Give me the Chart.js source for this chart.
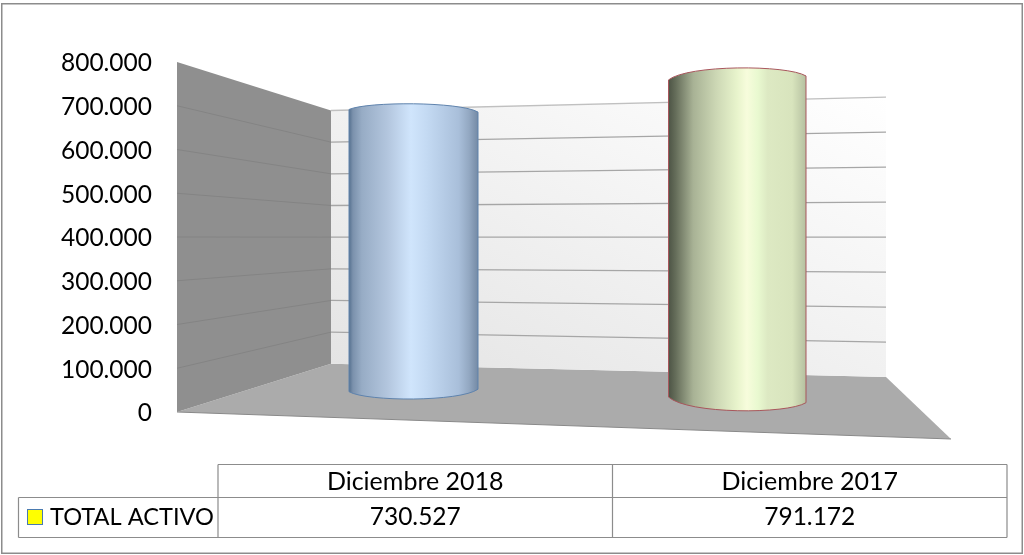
<!DOCTYPE html>
<html><head><meta charset="utf-8">
<style>html,body{margin:0;padding:0;background:#fff}canvas{display:block}</style>
<script src="https://cdn.jsdelivr.net/npm/chart.js@4"></script>
</head><body><canvas id="c" width="1024" height="555"></canvas>
<script>
const categories = ["Diciembre 2018", "Diciembre 2017"];
const seriesName = "TOTAL ACTIVO";
const totalActivo = [730527, 791172];
const yMax = 800000;
const yStep = 100000;

const fmt = v => String(v).replace(/\B(?=(\d{3})+$)/g, ".");

// perspective of the box: scale factors about the horizon row
const HORIZON = 237.5, KL = 0.7237, KR = 0.8;
const X0 = 177, X1 = 331, X2 = 886, X3 = 951, FLOOR_FRONT_RIGHT = 439;
const proj = (py, k) => HORIZON + (py - HORIZON) * k;

// how each category's cylinder sits in the 3-D box
const cylinders = [
  {l:349, r:478, baseL:391.7, baseR:389.2, low:399, kL:.883, kR:.867, bulge:7,
   line:"#5f83ad",
   stops:[[0,"#55708f"],[.03,"#7b91ac"],[.1,"#97acc5"],[.3,"#b3c6de"],[.48,"#d0e5fc"],[.6,"#c4daf3"],[.85,"#a9bfda"],[.93,"#93a8c2"],[1,"#748aa5"]]},
  {l:668.5, r:806, baseL:397, baseR:402.7, low:410.7, kL:.916, kR:.944, bulge:10,
   line:"#a8565c",
   stops:[[0,"#4d5445"],[.05,"#646c59"],[.18,"#a8b295"],[.35,"#cdd8b5"],[.5,"#e8f4cc"],[.57,"#f7fcdc"],[.65,"#e9f9d0"],[.72,"#dde9c3"],[.9,"#d8e4bd"],[1,"#b5c0a0"]]}
];

class CylinderBar extends Chart.BarElement {
  draw(ctx) {
    const s = cylinders[this.cylinderIndex || 0];
    const h = this.base - this.y;
    const tl = s.baseL - h * s.kL, tr = s.baseR - h * s.kR;
    const w = s.r - s.l, apex = (tl + tr) / 2 - s.bulge;
    const cTop = (apex - (tl + tr) / 8) * 4 / 3;
    const cBot = (s.low - (s.baseL + s.baseR) / 8) * 4 / 3;
    const g = ctx.createLinearGradient(s.l, 0, s.r, 0);
    s.stops.forEach(a => g.addColorStop(a[0], a[1]));
    ctx.save();
    ctx.beginPath();
    ctx.moveTo(s.l, tl);
    ctx.bezierCurveTo(s.l + w * .14, cTop, s.r - w * .14, cTop, s.r, tr);
    ctx.lineTo(s.r, s.baseR);
    ctx.bezierCurveTo(s.r - w * .14, cBot, s.l + w * .14, cBot, s.l, s.baseL);
    ctx.closePath();
    ctx.fillStyle = g; ctx.fill();
    ctx.strokeStyle = s.line; ctx.lineWidth = 1; ctx.stroke();
    ctx.restore();
  }
}
CylinderBar.id = "cylinderBar";
CylinderBar.defaults = Chart.BarElement.defaults;
CylinderBar.defaultRoutes = Chart.BarElement.defaultRoutes;
class CylinderController extends Chart.BarController {}
CylinderController.id = "cylinder";
CylinderController.defaults = Object.assign({}, Chart.BarController.defaults, {dataElementType:"cylinderBar"});
CylinderController.overrides = Chart.BarController.overrides;
Chart.register(CylinderBar, CylinderController);

const boxPlugin = {
  id: "box",
  beforeDatasetsDraw(chart) {
    chart.getDatasetMeta(0).data.forEach((el, i) => { el.cylinderIndex = i; });
    const ctx = chart.ctx, y = chart.scales.y;
    const top = y.getPixelForValue(yMax), bot = y.getPixelForValue(0);
    ctx.save();
    // floor
    ctx.beginPath();
    ctx.moveTo(X0, bot); ctx.lineTo(X1, proj(bot, KL)); ctx.lineTo(X2, proj(bot, KR)); ctx.lineTo(X3, FLOOR_FRONT_RIGHT); ctx.closePath();
    ctx.fillStyle = "#ababab"; ctx.fill();
    ctx.beginPath(); ctx.moveTo(X0, bot); ctx.lineTo(X3, FLOOR_FRONT_RIGHT);
    ctx.strokeStyle = "#8a8a8a"; ctx.lineWidth = 1.2; ctx.stroke();
    // left wall
    ctx.beginPath();
    ctx.moveTo(X0, top); ctx.lineTo(X1, proj(top, KL)); ctx.lineTo(X1, proj(bot, KL)); ctx.lineTo(X0, bot); ctx.closePath();
    ctx.fillStyle = "#8f8f8f"; ctx.fill();
    // back wall
    const g = ctx.createLinearGradient(X1, proj(bot, KL), 539, -69.5);
    g.addColorStop(0, "#e4e4e4"); g.addColorStop(1, "#ffffff");
    ctx.beginPath();
    ctx.moveTo(X1, proj(top, KL)); ctx.lineTo(X2, proj(top, KR)); ctx.lineTo(X2, proj(bot, KR)); ctx.lineTo(X1, proj(bot, KL)); ctx.closePath();
    ctx.fillStyle = g; ctx.fill();
    // grid lines from the value scale
    y.ticks.forEach(t => {
      const p = y.getPixelForValue(t.value);
      if (t.value > 0) {
        if (t.value < yMax) {
          ctx.beginPath(); ctx.moveTo(X0, p); ctx.lineTo(X1, proj(p, KL));
          ctx.strokeStyle = "#828282"; ctx.lineWidth = 0.9; ctx.stroke();
        }
        ctx.beginPath(); ctx.moveTo(X1, proj(p, KL)); ctx.lineTo(X2, proj(p, KR));
        ctx.strokeStyle = t.value < yMax ? "#a6a6a6" : "#c0c0c0"; ctx.lineWidth = 1.3; ctx.stroke();
      }
    });
    ctx.restore();
  },
  afterDraw(chart) {
    const ctx = chart.ctx, x = chart.scales.x;
    const L = 18.5, A = chart.chartArea.left, M = (x.getPixelForTick(0) + x.getPixelForTick(1)) / 2, R = chart.chartArea.right;
    const Y0 = 464.5, Y1 = 497.5, Y2 = 537.5;
    ctx.save();
    ctx.strokeStyle = "#8c8c8c"; ctx.lineWidth = 1.2;
    ctx.beginPath();
    ctx.moveTo(A, Y0); ctx.lineTo(R, Y0);
    ctx.moveTo(L, Y1); ctx.lineTo(R, Y1);
    ctx.moveTo(L, Y2); ctx.lineTo(R, Y2);
    ctx.moveTo(L, Y1); ctx.lineTo(L, Y2);
    ctx.moveTo(A, Y0); ctx.lineTo(A, Y2);
    ctx.moveTo(M, Y0); ctx.lineTo(M, Y2);
    ctx.moveTo(R, Y0); ctx.lineTo(R, Y2);
    ctx.stroke();
    // legend key + series name
    ctx.fillStyle = "#ffff00"; ctx.fillRect(28, 510, 14, 14);
    ctx.strokeStyle = "#4a7ab0"; ctx.lineWidth = 1; ctx.strokeRect(27.5, 509.5, 15, 15);
    ctx.fillStyle = "#000"; ctx.font = "23.6px Lato"; ctx.textAlign = "left"; ctx.textBaseline = "middle";
    ctx.fillText(seriesName, 50, 517);
    // table values
    ctx.font = "24.5px Lato"; ctx.textAlign = "center";
    totalActivo.forEach((v, i) => ctx.fillText(fmt(v), x.getPixelForTick(i), 517));
    // outer frame
    ctx.strokeStyle = "#8c8c8c"; ctx.lineWidth = 1.5;
    ctx.strokeRect(1.75, 3.75, 1020.5, 549.5);
    ctx.restore();
  }
};

new Chart(document.getElementById("c"), {
  type: "cylinder",
  data: { labels: categories, datasets: [{ label: seriesName, data: totalActivo, backgroundColor: "#9db8d8", clip: false }] },
  plugins: [boxPlugin],
  options: {
    responsive: false, animation: false,
    layout: { padding: { top: 62, right: 17, left: 0, bottom: 0 } },
    plugins: { legend: { display: false }, title: { display: false }, tooltip: { enabled: false } },
    scales: {
      x: {
        grid: { display: false }, border: { display: false },
        afterFit(s) { s.height = 143; },
        ticks: {
          padding: 47, maxRotation: 0, autoSkip: false, color: "#000",
          font: { family: "Lato", size: 25, lineHeight: "30px" }
        }
      },
      y: {
        min: 0, max: yMax,
        grid: { display: false, drawTicks: false }, border: { display: false },
        afterFit(s) { s.width = 218; s.paddingTop = 0; s.paddingBottom = 0; },
        ticks: {
          stepSize: yStep, padding: 66, labelOffset: 1.5, color: "#000", autoSkip: false,
          font: { family: "Lato", size: 24.5 },
          callback: v => fmt(v)
        }
      }
    }
  }
});
</script></body></html>
